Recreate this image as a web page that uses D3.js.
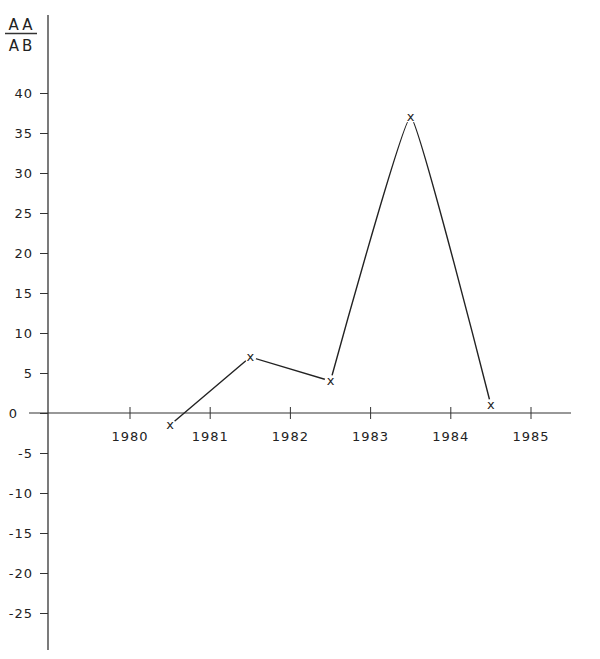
<!DOCTYPE html>
<html>
    <head>
        <script src="https://cdnjs.cloudflare.com/ajax/libs/d3/7.8.5/d3.min.js"></script>
        <title>AA / AB</title>

        <style>

            html, body {
                height: 100%;
                margin: 0;
                background-color: white;
            }

            .svg_canvas {
                display: block;
                font-family: "DejaVu Sans", sans-serif;
            }

            .svg_canvas text {
                fill: #222;
            }
        </style>
    </head>
    <body>
        <svg height="659" width="600" class="svg_canvas">
        </svg>

        <script>

            var years = [1980.5, 1981.5, 1982.5, 1983.5, 1984.5];
            var values = [-1.5, 7, 4, 37, 1];

            var xTicks = [1980, 1981, 1982, 1983, 1984, 1985];
            var yTicks = [40, 35, 30, 25, 20, 15, 10, 5, 0, -5, -10, -15, -20, -25];

            var points = years.map(function(yr, i){
                return {year: yr, value: values[i]};
            });

            var x = d3.scaleLinear()
                .domain([1980, 1985])
                .range([130, 531]);

            var y = d3.scaleLinear()
                .domain([0, 40])
                .range([413, 93]);

            var svg = d3.select(".svg_canvas");

            var axisX = 48;

            // vertical axis
            var yAxisGenerator = d3.axisLeft(y)
                .tickValues(yTicks)
                .tickSize(8)
                .tickPadding(7)
                .tickFormat(function(d){ return d < 0 ? "-" + Math.abs(d) : d; });

            var yAxis = svg.append("g")
                .attr("class", "y_axis")
                .attr("transform", "translate(" + axisX + ",0)")
                .call(yAxisGenerator);

            yAxis.select(".domain").remove();
            yAxis.selectAll("line").attr("stroke", "#333").attr("stroke-width", 1);
            yAxis.selectAll("text")
                .style("font-size", "13px")
                .style("letter-spacing", "1px")
                .style("font-family", "DejaVu Sans, sans-serif")
                .attr("fill", "#222");

            // the zero line runs further left, so its label sits out there
            yAxis.selectAll(".tick")
                .filter(function(d){ return d === 0; })
                .select("text")
                .attr("x", -30);

            svg.append("line")
                .attr("x1", axisX).attr("x2", axisX)
                .attr("y1", 15).attr("y2", 650)
                .attr("stroke", "#333")
                .attr("stroke-width", 1.3);

            // horizontal axis
            svg.append("line")
                .attr("x1", 29).attr("x2", 571)
                .attr("y1", y(0)).attr("y2", y(0))
                .attr("stroke", "#333")
                .attr("stroke-width", 1.1);

            var xTickG = svg.append("g")
                .attr("class", "x_axis")
                .selectAll("g")
                .data(xTicks)
                .enter()
                .append("g")
                .attr("transform", function(d){
                    return "translate(" + x(d) + "," + y(0) + ")";
                });

            xTickG.append("line")
                .attr("y1", -6).attr("y2", 6)
                .attr("stroke", "#333");

            xTickG.append("text")
                .attr("y", 28)
                .attr("text-anchor", "middle")
                .style("font-size", "13px")
                .style("letter-spacing", "1px")
                .text(function(d){ return d; });

            // fraction label
            svg.append("text")
                .attr("x", 22).attr("y", 30)
                .attr("text-anchor", "middle")
                .style("font-size", "15px")
                .style("letter-spacing", "3px")
                .text("AA");

            svg.append("line")
                .attr("x1", 5).attr("x2", 37)
                .attr("y1", 33.5).attr("y2", 33.5)
                .attr("stroke", "#333")
                .attr("stroke-width", 1.5);

            svg.append("text")
                .attr("x", 22).attr("y", 51)
                .attr("text-anchor", "middle")
                .style("font-size", "15px")
                .style("letter-spacing", "3px")
                .text("AB");

            // straight part then rounded peak
            var straight = d3.line()
                .x(function(d){ return x(d.year); })
                .y(function(d){ return y(d.value); });

            var smooth = d3.line()
                .curve(d3.curveCardinal.tension(0.72))
                .x(function(d){ return x(d.year); })
                .y(function(d){ return y(d.value); });

            svg.append("path")
                .datum(points.slice(0, 3))
                .attr("d", straight)
                .attr("fill", "none")
                .attr("stroke", "#222")
                .attr("stroke-width", 1.4);

            svg.append("path")
                .datum(points.slice(2))
                .attr("d", smooth)
                .attr("fill", "none")
                .attr("stroke", "#222")
                .attr("stroke-width", 1.4);

            // markers with a small gap around them
            svg.selectAll("circle.gap")
                .data(points)
                .enter()
                .append("circle")
                .attr("class", "gap")
                .attr("cx", function(d){ return x(d.year); })
                .attr("cy", function(d){ return y(d.value); })
                .attr("r", 6)
                .attr("fill", "white");

            svg.selectAll("text.mark")
                .data(points)
                .enter()
                .append("text")
                .attr("class", "mark")
                .attr("x", function(d){ return x(d.year); })
                .attr("y", function(d){ return y(d.value) + 4; })
                .attr("text-anchor", "middle")
                .style("font-size", "13px")
                .text("x");

        </script>
    </body>
</html>
